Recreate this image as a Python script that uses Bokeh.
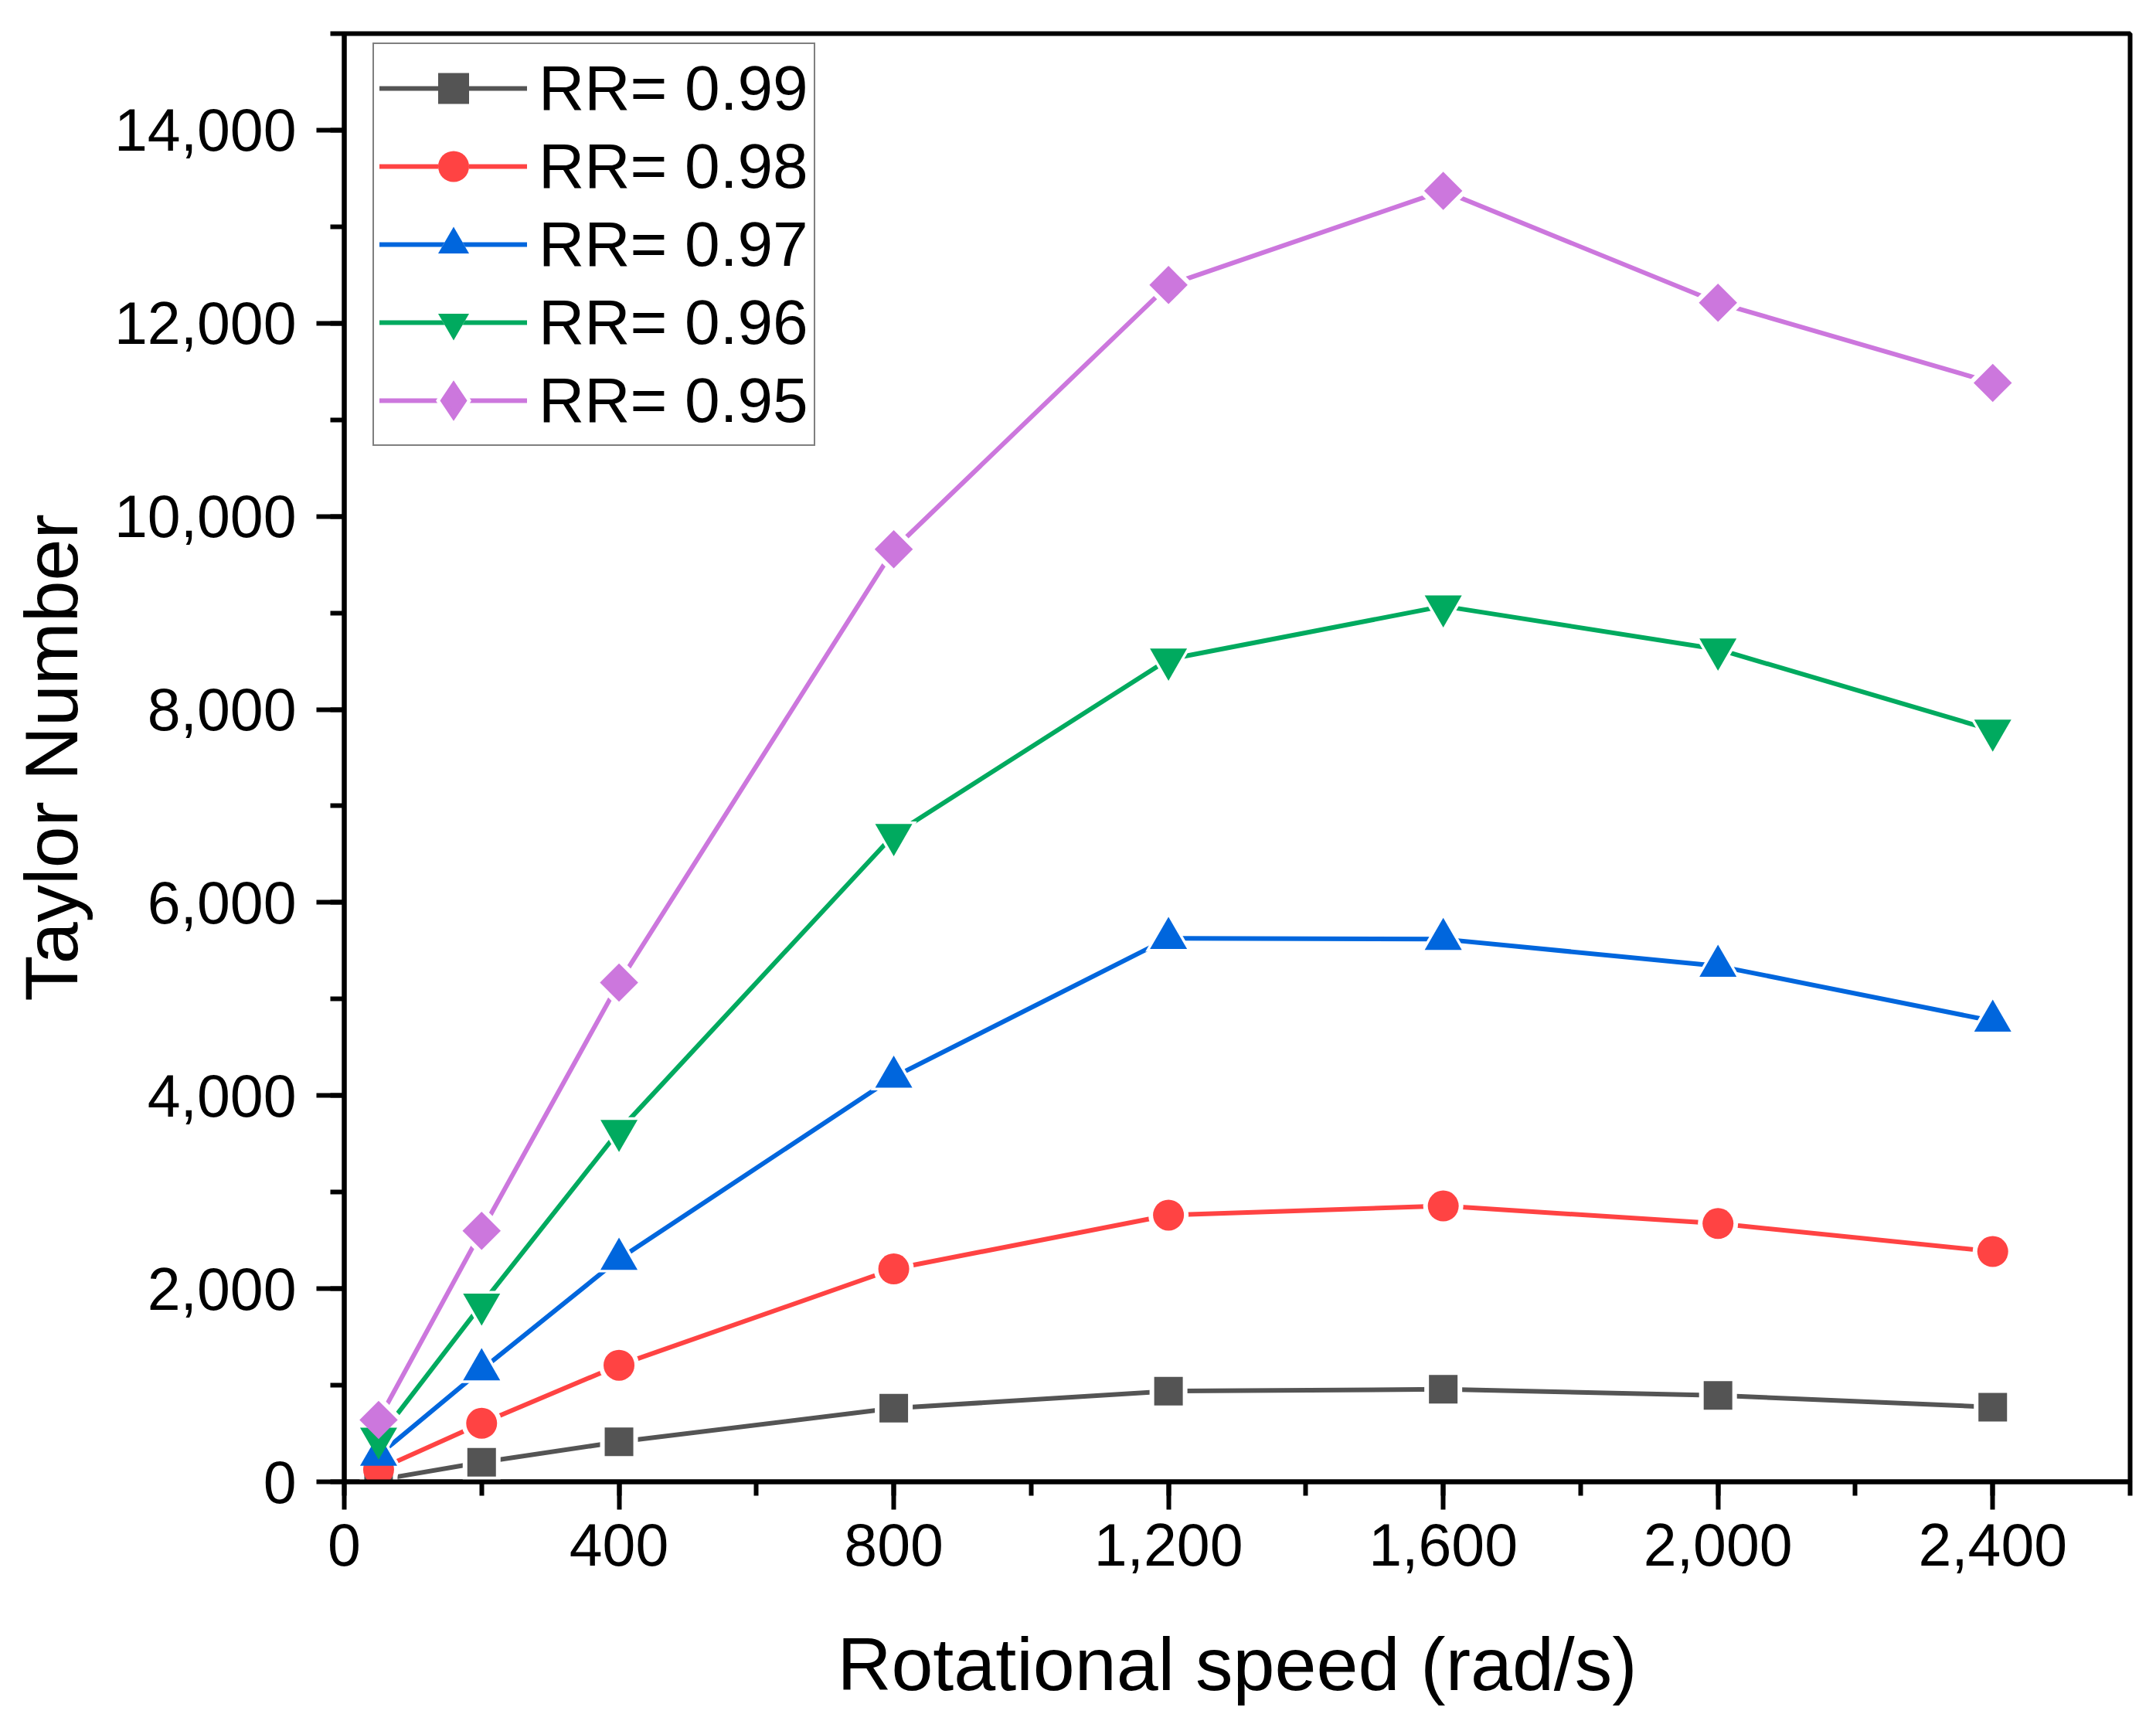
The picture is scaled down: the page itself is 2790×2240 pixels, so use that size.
import numpy as np
from bokeh.plotting import figure
from bokeh.models import (Range1d, SingleIntervalTicker, NumeralTickFormatter,
                          Legend, LegendItem, ColumnDataSource)
from bokeh.embed import file_html
from bokeh.resources import INLINE

# ---- data ----
speed = [50, 200, 400, 800, 1200, 1600, 2000, 2400]
rr_labels = ["RR= 0.99", "RR= 0.98", "RR= 0.97", "RR= 0.96", "RR= 0.95"]
ta_099 = [20, 202, 414, 762, 939, 958, 894, 773]
ta_098 = [127, 606, 1207, 2205, 2762, 2857, 2675, 2385]
ta_097 = [276, 1162, 2307, 4193, 5630, 5620, 5342, 4773]
ta_096 = [450, 1838, 3637, 6702, 8519, 9070, 8623, 7784]
ta_095 = [641, 2600, 5170, 9659, 12396, 13372, 12212, 11383]
x_ticks = [0, 400, 800, 1200, 1600, 2000, 2400]

series = [ta_099, ta_098, ta_097, ta_096, ta_095]
colors = ["#545454", "#FF4343", "#0066DD", "#00AA5F", "#CC77DD"]
markers = ["square", "circle", "triangle", "inverted_triangle", "square"]
sizes = [37, 40, 48, 48, 35]
angles = [0, 0, 0, 0, np.pi / 4]

FONT = "Liberation Sans"

p = figure(width=2774, height=2224, output_backend="svg", toolbar_location=None,
           x_range=Range1d(0, 2600), y_range=Range1d(0, 15000),
           min_border_left=445, min_border_right=18, min_border_top=43,
           min_border_bottom=307)
p.background_fill_color = "white"
p.border_fill_color = "white"
p.grid.visible = False
p.outline_line_color = "black"
p.outline_line_width = 6

for ax in (p.xaxis[0], p.yaxis[0]):
    ax.axis_line_width = 6
    ax.major_tick_line_width = 6
    ax.minor_tick_line_width = 6
    ax.major_tick_out = 36
    ax.major_tick_in = 0
    ax.minor_tick_out = 18
    ax.minor_tick_in = 0
    ax.major_label_text_font = FONT
    ax.major_label_text_font_size = "77px"
    ax.major_label_text_color = "black"
    ax.axis_label_text_font = FONT
    ax.axis_label_text_font_size = "97px"
    ax.axis_label_text_font_style = "normal"
    ax.axis_label_text_color = "black"
    ax.formatter = NumeralTickFormatter(format="0,0")

p.xaxis.ticker = SingleIntervalTicker(interval=400, num_minor_ticks=2)
p.yaxis.ticker = SingleIntervalTicker(interval=2000, num_minor_ticks=2)
p.xaxis.axis_label = "Rotational speed (rad/s)"
p.yaxis.axis_label = "Taylor Number"
p.xaxis.major_label_standoff = 18
p.yaxis.major_label_standoff = 26
p.xaxis.axis_label_standoff = 70
p.yaxis.axis_label_standoff = 24

LW = 6
line_rs, halo_rs, mark_rs = [], [], []
for vals, col in zip(series, colors):
    src = ColumnDataSource(dict(x=speed, y=vals))
    r = p.line("x", "y", source=src, line_color=col, line_width=LW, line_cap="round")
    line_rs.append((r, src))

for (r, src), mk, sz, ang in zip(line_rs, markers, sizes, angles):
    h = p.scatter("x", "y", source=src, marker=mk, size=sz + 12, angle=ang,
                  fill_color="white", line_color=None)
    halo_rs.append(h)

for (r, src), mk, sz, ang, col in zip(line_rs, markers, sizes, angles, colors):
    m = p.scatter("x", "y", source=src, marker=mk, size=sz, angle=ang,
                  fill_color=col, line_color=None)
    mark_rs.append(m)

# legend-only diamond for the last series (legend markers are drawn unrotated);
# hidden in the plot itself
src95 = line_rs[4][1]
leg_halo = p.scatter("x", "y", source=src95, marker="diamond", size=40,
                     fill_color="white", line_color="white", line_width=16,
                     line_join="miter", visible=False)
leg_diam = p.scatter("x", "y", source=src95, marker="diamond", size=40,
                     fill_color=colors[4], line_color=colors[4], line_width=7,
                     line_join="miter", visible=False)

items = []
for i, (lab, (r, src), h, m) in enumerate(zip(rr_labels, line_rs, halo_rs, mark_rs)):
    if i == 4:
        items.append(LegendItem(label=lab, renderers=[r, leg_halo, leg_diam]))
    else:
        items.append(LegendItem(label=lab, renderers=[r, h, m]))

legend = Legend(items=items, location=(37, 1340), margin=0, padding=7,
                spacing=1, glyph_width=191, glyph_height=100, label_standoff=15,
                label_text_font=FONT, label_text_font_size="82px",
                label_text_color="black", border_line_color="black",
                border_line_width=2.5, background_fill_alpha=1.0,
                inactive_fill_alpha=0.0, click_policy="none")
p.add_layout(legend)

open("out.html", "w").write(file_html(p, INLINE))
